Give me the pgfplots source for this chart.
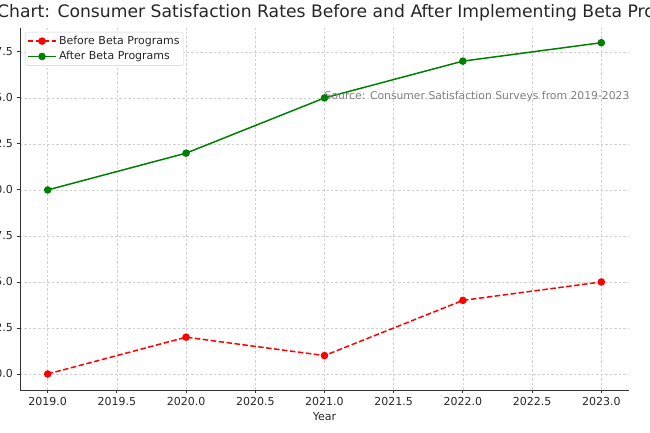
\documentclass[border=0pt]{standalone}
\usepackage{fontspec}
\setmainfont{DejaVu Sans}
\usepackage{pgfplots}
\pgfplotsset{compat=1.18}
\definecolor{spine}{HTML}{333333}
\definecolor{gridc}{HTML}{D0D0D0}
\definecolor{srcgray}{HTML}{808080}
\definecolor{mplgreen}{HTML}{008000}
\begin{document}
\begin{tikzpicture}[x=1pt,y=1pt]
\useasboundingbox (0,0) rectangle (650,433);
\clip (0,0) rectangle (650,433);
\begin{axis}[
    at={(20pt,43pt)}, anchor=south west,
    scale only axis, width=609pt, height=362pt,
    xmin=2018.8, xmax=2023.2,
    ymin=69.13, ymax=88.8,
    xtick={2019,2019.5,...,2023},
    ytick={70,72.5,...,87.5},
    axis lines*=left,
    axis line style={spine, line width=0.9pt},
    tick style={spine, line width=0.9pt},
    tick align=outside, major tick length=3.5pt,
    grid=major,
    major grid style={gridc, dash pattern=on 2.5pt off 2pt, line width=0.5pt},
    /pgf/number format/assume math mode=true,
    x tick label style={/pgf/number format/.cd, fixed, fixed zerofill, precision=1, 1000 sep={}},
    y tick label style={/pgf/number format/.cd, fixed, fixed zerofill, precision=1},
    tick label style={font=\fontsize{11}{13}\selectfont, text=black!85},
    xlabel={Year},
    ylabel={Satisfaction Rate (\%)},
    label style={font=\fontsize{11}{13}\selectfont, text=black!85},
    title={Line Chart: Consumer Satisfaction Rates Before and After Implementing Beta Programs},
    title style={font=\fontsize{17.2}{20}\selectfont, text=black!85, at={(0.5,1)}, anchor=base, yshift=4pt, xshift=8pt},
    legend style={at={(0.008,0.989)}, anchor=north west, draw=gridc, rounded corners=2pt,
        font=\fontsize{11}{13}\selectfont, text=black!85, row sep=1.5pt, inner sep=2pt},
    legend cell align=left,
    legend image code/.code={
        \draw[mark repeat=2,mark phase=2,#1] plot coordinates {(0cm,0cm) (0.5cm,0cm) (1cm,0cm)};
    },
]
\addplot[red, dash pattern=on 5.5pt off 2.5pt, line width=1.5pt, mark=*, mark size=3pt, mark options={solid}]
    coordinates {(2019,70) (2020,72) (2021,71) (2022,74) (2023,75)};
\addlegendentry{Before Beta Programs}
\addplot[mplgreen, line width=1.5pt, mark=*, mark size=3pt]
    coordinates {(2019,80) (2020,82) (2021,85) (2022,87) (2023,88)};
\addlegendentry{After Beta Programs}
\node[anchor=base west, inner sep=0pt, text=srcgray, font=\fontsize{10.8}{13}\selectfont]
    at (axis cs:2021,84.9) {Source: Consumer Satisfaction Surveys from 2019-2023};
\end{axis}
\end{tikzpicture}
\end{document}
